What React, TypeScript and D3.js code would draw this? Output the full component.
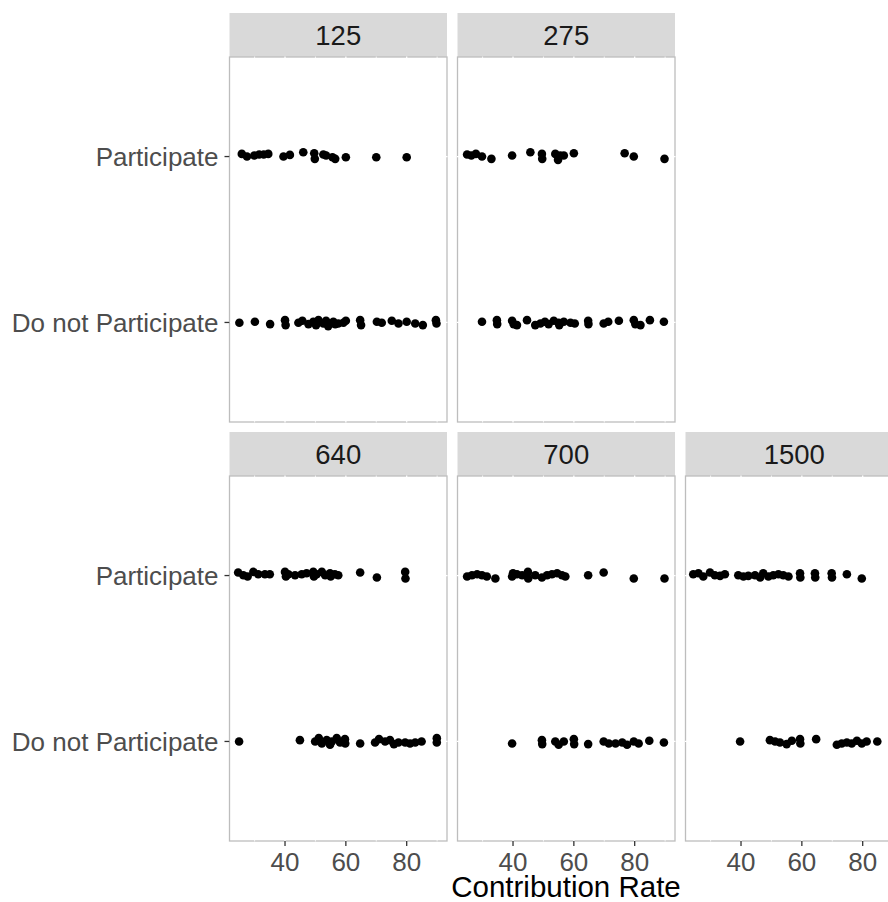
import React from "react";
import * as d3 from "d3";

// ---- data ----
const facets = ["125", "275", "640", "700", "1500"];
const categories = ["Do not Participate", "Participate"];
const xTicks = [40, 60, 80];
const xMinor = [30, 50, 70, 90];

const r125P = [25.8, 27.5, 29.9, 31.5, 33, 34.5, 39.5, 41.6, 46, 49.6, 49.8, 52.6, 53.5, 55.6, 56.5, 60, 70, 80];
const j125P = [0.016, 0, 0.006, 0.012, 0.012, 0.016, 0, 0.01, 0.026, 0.02, -0.014, 0.012, 0.006, -0.004, -0.014, -0.004, -0.004, -0.004];
const r125D = [25, 30.1, 35.1, 40, 40.2, 44.4, 45.7, 47.7, 49.3, 50.2, 51, 52.6, 53.5, 54.2, 55.9, 56.5, 57.5, 59.2, 60, 64.7, 65, 70.2, 71.8, 75.1, 77.3, 80, 82.8, 85.3, 89.6, 89.8];
const j125D = [-0.002, 0.004, -0.01, 0.014, -0.016, -0.002, 0.01, -0.01, 0.004, -0.016, 0.014, -0.006, 0.01, -0.022, 0.004, -0.01, -0.006, -0.002, 0.01, 0.014, -0.016, 0.004, -0.002, 0.01, -0.006, 0.004, -0.006, -0.016, 0.014, -0.006];

const r275P = [24.9, 26.3, 27.8, 29.8, 32.9, 39.7, 45.7, 49.5, 49.6, 53.9, 54.8, 55.5, 56.7, 60, 76.7, 79.7, 89.8];
const j275P = [0.012, 0.006, 0.016, 0, -0.014, 0.006, 0.026, 0.016, -0.014, 0.016, -0.02, 0.006, 0.006, 0.02, 0.02, 0, -0.014];
const r275D = [29.8, 34.7, 34.8, 39.7, 40.2, 41.3, 44.6, 47.3, 49, 50.5, 51.7, 53.4, 55, 55.2, 56.7, 58.9, 60.3, 64.7, 64.8, 69.8, 71.3, 74.8, 79.7, 80.2, 81.9, 85, 89.6];
const j275D = [0.004, 0.014, -0.01, 0.01, -0.01, -0.016, 0.014, -0.016, -0.006, 0.004, -0.01, 0.01, -0.002, -0.016, 0.004, -0.002, -0.006, 0.01, -0.01, -0.006, 0.004, 0.01, 0.014, -0.01, -0.016, 0.014, 0.004];

const r640P = [24.6, 26.3, 27.7, 29.6, 31.2, 33.4, 35, 40, 40.3, 41.1, 43.3, 45.5, 47.1, 49.3, 49.5, 50.4, 52.1, 53.2, 54.8, 55, 56.4, 57.5, 64.7, 70.2, 79.5, 79.6];
const j640P = [0.018, 0.002, -0.006, 0.022, 0.008, 0.008, 0.008, 0.022, -0.006, 0.008, 0.002, 0.008, 0.014, 0.022, -0.006, 0.008, 0.022, 0.002, 0.014, -0.006, 0.008, 0.002, 0.018, -0.012, 0.022, -0.018];
const r640D = [24.9, 44.9, 49.9, 51.1, 52.1, 53.7, 54.8, 55.4, 57, 58.1, 59.7, 59.8, 64.7, 69.6, 70.9, 72.9, 74.5, 75.8, 77.3, 79.5, 81.1, 82.8, 84.9, 89.9, 89.9];
const j640D = [0, 0.008, 0, 0.02, -0.012, 0.008, -0.02, 0, 0.02, -0.006, 0.014, -0.012, -0.012, -0.006, 0.014, 0, 0.008, -0.016, -0.006, -0.006, -0.012, -0.006, 0, 0.02, -0.006];

const r700P = [24.9, 26.5, 28.2, 29.8, 31.4, 34.2, 39.7, 40, 41.3, 43, 44.9, 45, 47.3, 49.5, 51.2, 52.8, 54.5, 56.1, 57.2, 64.7, 69.8, 79.7, 89.8];
const j700P = [-0.006, 0.002, 0.008, 0.002, -0.006, -0.018, -0.006, 0.014, 0.008, 0.002, 0.022, -0.018, 0.002, -0.012, 0.002, 0.008, 0.014, 0.002, -0.006, 0.002, 0.018, -0.018, -0.018];
const r700D = [39.7, 49.5, 49.6, 53.9, 55, 56.7, 60, 60.1, 64.7, 69.8, 71.5, 73.7, 75.9, 77.5, 79.7, 81.3, 84.8, 89.6];
const j700D = [-0.012, 0.008, -0.016, 0, -0.02, 0, 0.014, -0.016, -0.016, 0, -0.012, -0.012, -0.006, -0.02, 0, -0.012, 0.004, -0.006];

const r1500P = [24.3, 26, 27.6, 29.8, 31.4, 33.1, 34.7, 39.1, 40.8, 42.4, 44.6, 46.3, 47.3, 49, 50.6, 52.3, 53.9, 55.6, 59.4, 59.5, 64.3, 64.4, 69.8, 69.9, 74.8, 79.7];
const j1500P = [0.008, 0.014, -0.006, 0.018, 0.002, -0.002, 0.008, 0.002, -0.006, -0.002, 0.002, -0.012, 0.014, -0.006, 0.002, 0.008, 0.002, -0.006, 0.014, -0.012, 0.014, -0.012, 0.014, -0.012, 0.008, -0.018];
const r1500D = [39.7, 49.5, 51.2, 52.8, 55, 56.7, 59.4, 59.5, 64.7, 71.5, 73.1, 74.8, 76.4, 78.1, 79.7, 81.3, 84.8];
const j1500D = [0, 0.008, 0, -0.006, -0.016, 0.004, 0.014, -0.012, 0.014, -0.02, -0.012, -0.006, -0.012, 0.004, -0.012, 0, 0];

const participateRates = [r125P, r275P, r640P, r700P, r1500P];
const participateJitter = [j125P, j275P, j640P, j700P, j1500P];
const notRates = [r125D, r275D, r640D, r700D, r1500D];
const notJitter = [j125D, j275D, j640D, j700D, j1500D];

// ---- layout ----
const W = 888;
const H = 902;
const FONT = "'Liberation Sans', Arial, Helvetica, sans-serif";
const panelW = 217.5;
const colLeft = [229.5, 457.5, 685.5];
const stripH = 44;
const panelH = 365;
const rowStripTop = [13, 432];
const facetPos = [
  { row: 0, col: 0 },
  { row: 0, col: 1 },
  { row: 1, col: 0 },
  { row: 1, col: 1 },
  { row: 1, col: 2 },
];
const xDomain = [21.75, 93.25];
const yDomain = [0.4, 2.6];

export default function App() {
  return (
    <svg
      width={W}
      height={H}
      style={{ position: "absolute", left: 0, top: 0, display: "block", background: "#fff" }}
      fontFamily={FONT}
    >
      <rect x={0} y={0} width={W} height={H} fill="#fff" />
      {facets.map((f, i) => {
        const { row, col } = facetPos[i];
        const left = colLeft[col];
        const stripTop = rowStripTop[row];
        const top = stripTop + stripH;
        const bottom = top + panelH;
        const x = d3.scaleLinear().domain(xDomain).range([left, left + panelW]);
        const y = d3.scaleLinear().domain(yDomain).range([bottom, top]);
        const isBottom = row === 1;
        const isLeft = col === 0;
        const pts: { cx: number; cy: number }[] = [];
        categories.forEach((c, ci) => {
          const rates = ci === 1 ? participateRates[i] : notRates[i];
          const jit = ci === 1 ? participateJitter[i] : notJitter[i];
          rates.forEach((v, k) => pts.push({ cx: x(v), cy: y(ci + 1 + jit[k]) }));
        });
        return (
          <g key={f}>
            <rect x={left} y={stripTop} width={panelW} height={stripH} fill="#D9D9D9" />
            <text
              x={left + panelW / 2}
              y={stripTop + stripH / 2}
              dy="0.36em"
              textAnchor="middle"
              fontSize={27.5}
              fill="#1A1A1A"
            >
              {f}
            </text>
            <rect x={left} y={top} width={panelW} height={panelH} fill="#fff" stroke="#BDBDBD" strokeWidth={1.3} />
            {xMinor.map((t) => (
              <line key={"mn" + t} x1={x(t)} x2={x(t)} y1={top - 0.5} y2={bottom + 0.5} stroke="#fff" strokeWidth={0.8} />
            ))}
            {xTicks.map((t) => (
              <line key={"mj" + t} x1={x(t)} x2={x(t)} y1={top - 0.5} y2={bottom + 0.5} stroke="#fff" strokeWidth={1.3} />
            ))}
            {categories.map((c, ci) => (
              <line key={"hy" + c} x1={left - 0.5} x2={left + panelW + 0.5} y1={y(ci + 1)} y2={y(ci + 1)} stroke="#fff" strokeWidth={1.3} />
            ))}
            {pts.map((p, k) => (
              <circle key={k} cx={p.cx} cy={p.cy} r={4.3} fill="#000" />
            ))}
            {isBottom &&
              xTicks.map((t) => (
                <g key={"xt" + t}>
                  <line x1={x(t)} x2={x(t)} y1={bottom} y2={bottom + 5} stroke="#333" strokeWidth={1.3} />
                  <text x={x(t)} y={bottom + 21} dy="0.36em" textAnchor="middle" fontSize={26} fill="#4D4D4D">
                    {t}
                  </text>
                </g>
              ))}
            {isLeft &&
              categories.map((c, ci) => (
                <g key={"yt" + c}>
                  <line x1={left - 5} x2={left} y1={y(ci + 1)} y2={y(ci + 1)} stroke="#333" strokeWidth={1.3} />
                  <text x={left - 11} y={y(ci + 1)} dy="0.36em" textAnchor="end" fontSize={26} fill="#4D4D4D">
                    {c}
                  </text>
                </g>
              ))}
          </g>
        );
      })}
      <text x={566} y={886} dy="0.36em" textAnchor="middle" fontSize={29.5} fill="#000">
        Contribution Rate
      </text>
    </svg>
  );
}
